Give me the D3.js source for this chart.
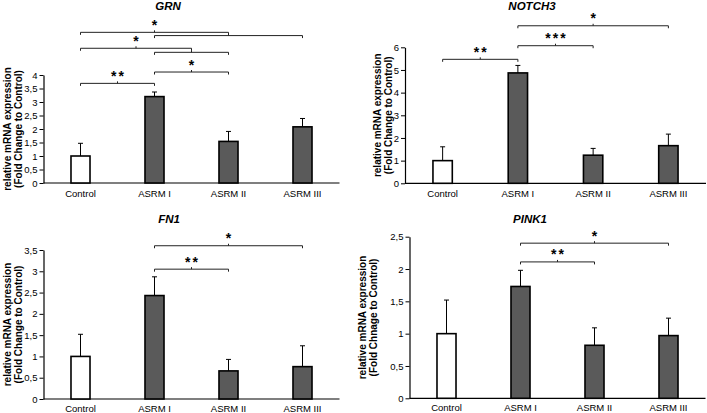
<!DOCTYPE html>
<html>
<head>
<meta charset="utf-8">
<script src="https://cdn.jsdelivr.net/npm/d3@7"></script>
<style>
  html, body { margin: 0; padding: 0; background: #fff; }
  svg { display: block; }
  text { font-family: "Liberation Sans", Arial, sans-serif; fill: #000; }
</style>
</head>
<body>
<svg id="chart" width="707" height="413"></svg>
<script>
// ---------- data ----------
const categories = ["Control", "ASRM I", "ASRM II", "ASRM III"];

const grnMean   = [1.00, 3.20, 1.54, 2.08];
const grnSD     = [0.47, 0.17, 0.37, 0.31];
const grnTicks  = [0, 0.5, 1, 1.5, 2, 2.5, 3, 3.5, 4];
// brackets: [from category index, to category index, level (fold change), label]
const grnBrackets = [
  [0, 2, 5.58, "*"],
  [1, 3, 5.46, ""],
  [0, 1.5, 4.99, "*"],
  [1, 2, 4.84, ""],
  [1, 2, 4.11, "*"],
  [0, 1, 3.69, "**"]
];

const notchMean  = [1.00, 4.87, 1.24, 1.66];
const notchSD    = [0.61, 0.33, 0.30, 0.51];
const notchTicks = [0, 1, 2, 3, 4, 5, 6];
const notchBrackets = [
  [1, 3, 6.95, "*"],
  [1, 2, 6.07, "***"],
  [0, 1, 5.47, "**"]
];

const fn1Mean  = [1.00, 2.43, 0.66, 0.76];
const fn1SD    = [0.52, 0.44, 0.27, 0.49];
const fn1Ticks = [0, 0.5, 1, 1.5, 2, 2.5, 3, 3.5];
const fn1Brackets = [
  [1, 3, 3.60, "*"],
  [1, 2, 3.05, "**"]
];

const pinkMean  = [1.00, 1.73, 0.82, 0.97];
const pinkSD    = [0.52, 0.25, 0.27, 0.27];
const pinkTicks = [0, 0.5, 1, 1.5, 2, 2.5];
const pinkBrackets = [
  [1, 3, 2.40, "*"],
  [1, 2, 2.11, "**"]
];

// ---------- layout ----------
const panels = [
  { title: "GRN", mean: grnMean, sd: grnSD, ticks: grnTicks, brackets: grnBrackets,
    x0: 43.5, x1: 339.5, y0: 183, yTop: 75, titleX: 168, titleY: 10,
    lab1X: 7, lab2X: 18, catY: 197,
    ylab2: "(Fold Change to Control)" },
  { title: "NOTCH3", mean: notchMean, sd: notchSD, ticks: notchTicks, brackets: notchBrackets,
    x0: 405, x1: 706, y0: 183.3, yTop: 47.3, titleX: 532, titleY: 10,
    lab1X: 377, lab2X: 388, catY: 197,
    ylab2: "(Fold Change to Control)" },
  { title: "FN1", mean: fn1Mean, sd: fn1SD, ticks: fn1Ticks, brackets: fn1Brackets,
    x0: 43.5, x1: 339.5, y0: 399, yTop: 250, titleX: 169, titleY: 223,
    lab1X: 7, lab2X: 18, catY: 411.5,
    ylab2: "(Fold Change to Control)" },
  { title: "PINK1", mean: pinkMean, sd: pinkSD, ticks: pinkTicks, brackets: pinkBrackets,
    x0: 409.5, x1: 705.5, y0: 398.3, yTop: 236.7, titleX: 530, titleY: 223,
    lab1X: 362, lab2X: 373, catY: 411.5,
    ylab2: "(Fold Chnage to Control)" }
];

const svg = d3.select("#chart");
const fmt = d => String(d).replace(".", ",");

panels.forEach(p => {
  const g = svg.append("g");
  const maxTick = d3.max(p.ticks);

  const x = d3.scaleBand()
    .domain(categories)
    .range([p.x0, p.x1])
    .paddingInner(0.743)
    .paddingOuter(0.3715);
  const step = x.step();
  const xc = i => x(categories[0]) + x.bandwidth() / 2 + i * step;

  const y = d3.scaleLinear().domain([0, maxTick]).range([p.y0, p.yTop]);

  // y axis
  const yAxis = d3.axisLeft(y)
    .tickValues(p.ticks)
    .tickFormat(fmt)
    .tickSize(4)
    .tickSizeOuter(0)
    .tickPadding(2);
  const ya = g.append("g").attr("transform", `translate(${p.x0},0)`).call(yAxis);
  ya.selectAll("path.domain").attr("stroke", "#000").attr("stroke-width", 1.2);
  ya.selectAll(".tick line").attr("stroke", "#000");
  ya.selectAll(".tick text")
    .style("font-family", "'Liberation Sans', Arial, sans-serif")
    .style("font-size", "9.5px").attr("fill", "#000");

  // x axis (baseline + category labels)
  const xAxis = d3.axisBottom(x).tickSize(0).tickSizeOuter(0).tickPadding(0);
  const xa = g.append("g").attr("transform", `translate(0,${p.y0})`).call(xAxis);
  xa.select("path.domain").remove();
  xa.selectAll(".tick text")
    .attr("y", p.catY - p.y0).attr("dy", null)
    .style("font-family", "'Liberation Sans', Arial, sans-serif")
    .style("font-size", "9.5px").attr("fill", "#000");
  g.append("line")
    .attr("x1", p.x0).attr("x2", p.x1)
    .attr("y1", p.y0).attr("y2", p.y0)
    .attr("stroke", "#000").attr("stroke-width", 1.2);

  // bars
  g.selectAll("rect.bar")
    .data(p.mean)
    .join("rect")
    .attr("class", "bar")
    .attr("x", (d, i) => x(categories[i]))
    .attr("width", x.bandwidth())
    .attr("y", d => y(d))
    .attr("height", d => p.y0 - y(d))
    .attr("fill", (d, i) => i === 0 ? "#ffffff" : "#5a5a5a")
    .attr("stroke", "#000")
    .attr("stroke-width", 1.6);

  // error bars (upper)
  const eb = g.selectAll("g.err").data(p.mean).join("g").attr("class", "err");
  eb.append("line")
    .attr("x1", (d, i) => xc(i)).attr("x2", (d, i) => xc(i))
    .attr("y1", d => y(d)).attr("y2", (d, i) => y(d + p.sd[i]))
    .attr("stroke", "#000").attr("stroke-width", 1);
  eb.append("line")
    .attr("x1", (d, i) => xc(i) - 2.5).attr("x2", (d, i) => xc(i) + 2.5)
    .attr("y1", (d, i) => y(d + p.sd[i])).attr("y2", (d, i) => y(d + p.sd[i]))
    .attr("stroke", "#000").attr("stroke-width", 1);

  // significance brackets
  p.brackets.forEach(([a, b, lvl, lab]) => {
    const xa_ = xc(a), xb_ = xc(b), yy = y(lvl), xm = (xa_ + xb_) / 2;
    g.append("path")
      .attr("d", `M${xa_},${yy + 2.5}V${yy}H${xb_}V${yy + 2.5}M${xm},${yy}V${yy - 2}`)
      .attr("fill", "none").attr("stroke", "#222").attr("stroke-width", 1);
    if (lab) {
      g.append("text")
        .attr("x", xm + 1).attr("y", yy - 2.5)
        .attr("text-anchor", "middle")
        .style("font-size", "14px").style("font-weight", "bold")
        .style("letter-spacing", "2px")
        .text(lab);
    }
  });

  // title
  g.append("text")
    .attr("x", p.titleX).attr("y", p.titleY)
    .attr("text-anchor", "middle")
    .style("font-size", "11.5px").style("font-weight", "bold").style("font-style", "italic")
    .text(p.title);

  // y axis label (two lines, rotated)
  const yc = (p.y0 + p.yTop) / 2;
  [[p.lab1X, "relative mRNA expression"], [p.lab2X, p.ylab2]].forEach(([lx, t]) => {
    g.append("text")
      .attr("transform", `translate(${lx + 3.5},${yc}) rotate(-90)`)
      .attr("text-anchor", "middle")
      .style("font-size", "10px").style("font-weight", "bold")
      .text(t);
  });
});
</script>
</body>
</html>
